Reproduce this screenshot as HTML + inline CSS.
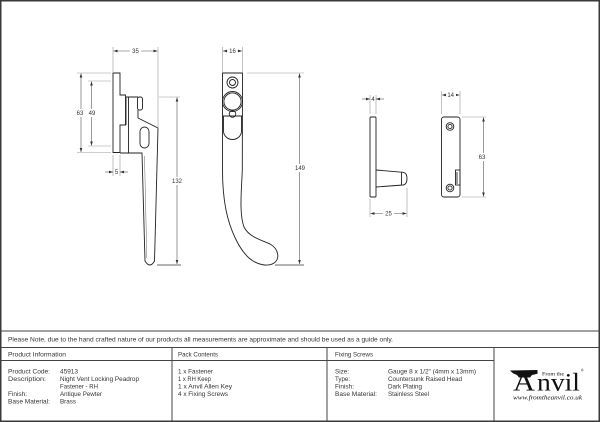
<!DOCTYPE html>
<html><head><meta charset="utf-8"><style>
html,body{margin:0;padding:0;background:#fff;}
svg{display:block;}
.o{fill:none;stroke:#222;stroke-width:0.9;}
.d{stroke:#555;stroke-width:0.6;fill:none;}
.e{stroke:#9a9a9a;stroke-width:0.6;fill:none;}
.t{font-family:"Liberation Sans",sans-serif;font-size:6px;fill:#333;}
.tb{font-family:"Liberation Sans",sans-serif;font-size:6.2px;fill:#333;}
.l{stroke:#444;stroke-width:1;fill:none;}
</style></head><body>
<svg width="600" height="422" viewBox="0 0 600 422" xmlns="http://www.w3.org/2000/svg">
<defs>
<marker id="a" viewBox="0 0 6 4" refX="6" refY="2" markerWidth="4" markerHeight="2.7" markerUnits="userSpaceOnUse" orient="auto-start-reverse"><path d="M0,0 L6,2 L0,4 z" fill="#333"/></marker>
</defs>
<rect x="0" y="0" width="600" height="422" fill="#fff"/>
<!-- page frame -->
<rect x="0.75" y="0.75" width="598.5" height="420.5" fill="none" stroke="#3a3a3a" stroke-width="1.5"/>

<!-- ===== LEFT DRAWING ===== -->
<path class="o" d="M113,73 H120 V95 H125.5 V125 H120 V152.5 H113 Z"/>
<path class="o" d="M126,97 V125 M128.5,97 V153"/>
<path class="o" d="M126,97 H138 M138,110 V118 L158,128 L154.5,261 Q150,269 145,261 L142,153 H120"/>
<rect class="o" x="137.5" y="97" width="5" height="13" rx="2"/>
<rect class="o" x="140" y="127" width="9" height="21" rx="4.5"/>
<path d="M144.5,156 L146.8,258" stroke="#666" stroke-width="0.5" fill="none"/>
<!-- dims left -->
<path class="e" d="M113,47 V72 M158,47 V128"/>
<path class="d" d="M113.5,51 H157.5" marker-start="url(#a)" marker-end="url(#a)"/>
<rect x="130" y="47" width="11" height="8" fill="#fff"/>
<text class="t" x="135.5" y="53.2" text-anchor="middle">35</text>

<path class="e" d="M77,73 H111 M77,152.5 H111 M88,81 H111 M88,146 H111"/>
<path class="d" d="M81,73.5 V152" marker-start="url(#a)" marker-end="url(#a)"/>
<path class="d" d="M91.5,81.5 V145.5" marker-start="url(#a)" marker-end="url(#a)"/>
<rect x="75" y="109" width="24" height="8" fill="#fff"/>
<text class="t" x="80" y="115" text-anchor="middle">63</text>
<text class="t" x="92" y="115" text-anchor="middle">49</text>

<path class="e" d="M113,155 V176 M120,155 V176"/>
<path class="d" d="M105,172 H113" marker-end="url(#a)"/>
<path class="d" d="M128,172 H120" marker-end="url(#a)"/>
<text class="t" x="116.5" y="174.2" text-anchor="middle">5</text>

<path class="e" d="M159,97 H180"/>
<path d="M157,265 H181" stroke="#9a9a9a" stroke-width="1.4"/>
<path class="d" d="M177,97.5 V264" marker-start="url(#a)" marker-end="url(#a)"/>
<rect x="170" y="177" width="15" height="8" fill="#fff"/>
<text class="t" x="177" y="183" text-anchor="middle">132</text>

<!-- ===== MIDDLE DRAWING ===== -->
<path class="o" d="M222.5,73 H242.5 L242.3,170 C241.5,190 239,214 244,227 C249,237 261,240 270,244 C279,249 280,259 274,263 C268,267 257,265 249,258 C239,249 230,230 226,210 C223,195 222.5,182 222.5,170 Z"/>
<circle class="o" cx="232.5" cy="82.5" r="5.5"/>
<circle class="o" cx="232.5" cy="82.5" r="3"/>
<circle class="o" cx="232.5" cy="101.5" r="10"/>
<circle class="o" cx="232.5" cy="101.5" r="8.6"/>
<circle class="o" cx="232.5" cy="114" r="3.3"/>
<path class="o" d="M222.5,116 H242.5 M223.5,116 V131 A9,8.5 0 0 0 241.5,131 V116"/>
<!-- dims middle -->
<path class="e" d="M222.5,47 V72 M242.5,47 V72"/>
<path class="d" d="M223,51 H242" marker-start="url(#a)" marker-end="url(#a)"/>
<rect x="227.5" y="47" width="10" height="8" fill="#fff"/>
<text class="t" x="232.5" y="53.2" text-anchor="middle">16</text>

<path class="e" d="M247,73 H304"/>
<path d="M275,265 H304" stroke="#9a9a9a" stroke-width="1.4"/>
<path class="d" d="M299.5,73.5 V264" marker-start="url(#a)" marker-end="url(#a)"/>
<rect x="292" y="164" width="15" height="8" fill="#fff"/>
<text class="t" x="300" y="170" text-anchor="middle">149</text>

<!-- ===== RIGHT DRAWINGS ===== -->
<rect class="o" x="370" y="117" width="6" height="80" rx="1"/>
<path class="o" d="M376,170 L403,172.3 Q407,172.8 407,178.5 Q407,184.5 403,185 L376,187"/>
<path class="o" d="M401.5,172.2 V185.2"/>
<path class="e" d="M370,95 V114 M376,95 V114"/>
<path class="d" d="M362,99 H370" marker-end="url(#a)"/>
<path class="d" d="M384,99 H376" marker-end="url(#a)"/>
<text class="t" x="373" y="101.2" text-anchor="middle">4</text>
<path class="e" d="M370,199 V217 M407,188 V217"/>
<path class="d" d="M370.5,213.5 H406.5" marker-start="url(#a)" marker-end="url(#a)"/>
<rect x="383" y="210" width="11" height="7" fill="#fff"/>
<text class="t" x="388.5" y="215.7" text-anchor="middle">25</text>

<rect class="o" x="441.5" y="117" width="18.5" height="80" rx="2.5"/>
<circle class="o" cx="450" cy="126.5" r="3.8"/>
<circle class="o" cx="450" cy="126.5" r="2.1"/>
<circle class="o" cx="450" cy="188" r="3.8"/>
<circle class="o" cx="450" cy="188" r="2.1"/>
<rect class="o" x="455.5" y="170" width="4.5" height="15"/>
<path class="o" d="M457,172 V184"/>
<path class="e" d="M441.5,91 V114 M460,91 V114"/>
<path class="d" d="M442,95 H459.5" marker-start="url(#a)" marker-end="url(#a)"/>
<rect x="446" y="91.5" width="10" height="7" fill="#fff"/>
<text class="t" x="450.7" y="97.2" text-anchor="middle">14</text>
<path class="e" d="M462,117 H486 M462,197 H486"/>
<path class="d" d="M483.5,117.5 V196.5" marker-start="url(#a)" marker-end="url(#a)"/>
<rect x="477" y="153" width="11" height="8" fill="#fff"/>
<text class="t" x="482" y="159" text-anchor="middle">63</text>

<!-- ===== TABLE ===== -->
<path class="l" d="M0,331 H600 M0,347.5 H600 M0,360.5 H494 M172,347.5 V421 M327,347.5 V421 M494,347.5 V421"/>
<text class="tb" x="8" y="341.5" textLength="385" lengthAdjust="spacingAndGlyphs">Please Note, due to the hand crafted nature of our products all measurements are approximate and should be used as a guide only.</text>

<text class="tb" x="8" y="356.3" textLength="58" lengthAdjust="spacingAndGlyphs">Product Information</text>
<text class="tb" x="178" y="356.3" textLength="40" lengthAdjust="spacingAndGlyphs">Pack Contents</text>
<text class="tb" x="335" y="356.3" textLength="38" lengthAdjust="spacingAndGlyphs">Fixing Screws</text>

<text class="tb" x="8" y="373.5" textLength="42" lengthAdjust="spacingAndGlyphs">Product Code:</text>
<text class="tb" x="60" y="373.5" textLength="18" lengthAdjust="spacingAndGlyphs">45913</text>
<text class="tb" x="8" y="381" textLength="38" lengthAdjust="spacingAndGlyphs">Description:</text>
<text class="tb" x="60" y="381" textLength="79" lengthAdjust="spacingAndGlyphs">Night Vent Locking Peadrop</text>
<text class="tb" x="60" y="388.5" textLength="38" lengthAdjust="spacingAndGlyphs">Fastener - RH</text>
<text class="tb" x="8" y="396" textLength="19" lengthAdjust="spacingAndGlyphs">Finish:</text>
<text class="tb" x="60" y="396" textLength="42" lengthAdjust="spacingAndGlyphs">Antique Pewter</text>
<text class="tb" x="8" y="403.5" textLength="42" lengthAdjust="spacingAndGlyphs">Base Material:</text>
<text class="tb" x="60" y="403.5" textLength="16" lengthAdjust="spacingAndGlyphs">Brass</text>

<text class="tb" x="178" y="373.5" textLength="35" lengthAdjust="spacingAndGlyphs">1 x Fastener</text>
<text class="tb" x="178" y="381" textLength="33" lengthAdjust="spacingAndGlyphs">1 x RH Keep</text>
<text class="tb" x="178" y="388.5" textLength="54" lengthAdjust="spacingAndGlyphs">1 x Anvil Allen Key</text>
<text class="tb" x="178" y="396" textLength="50" lengthAdjust="spacingAndGlyphs">4 x Fixing Screws</text>

<text class="tb" x="335" y="373.5" textLength="14" lengthAdjust="spacingAndGlyphs">Size:</text>
<text class="tb" x="388" y="373.5" textLength="88" lengthAdjust="spacingAndGlyphs">Gauge 8 x 1/2" (4mm x 13mm)</text>
<text class="tb" x="335" y="381" textLength="15" lengthAdjust="spacingAndGlyphs">Type:</text>
<text class="tb" x="388" y="381" textLength="74" lengthAdjust="spacingAndGlyphs">Countersunk Raised Head</text>
<text class="tb" x="335" y="388.5" textLength="19" lengthAdjust="spacingAndGlyphs">Finish:</text>
<text class="tb" x="388" y="388.5" textLength="34" lengthAdjust="spacingAndGlyphs">Dark Plating</text>
<text class="tb" x="335" y="396" textLength="42" lengthAdjust="spacingAndGlyphs">Base Material:</text>
<text class="tb" x="388" y="396" textLength="41" lengthAdjust="spacingAndGlyphs">Stainless Steel</text>

<!-- logo -->
<text x="513" y="390.5" font-family="'Liberation Serif',serif" font-size="26" fill="#111" textLength="22" lengthAdjust="spacingAndGlyphs">A</text>
<polygon points="510,370.5 537.5,370 537.5,373.8 532,375 530,377.5 519,377.5 517,375 513,373.2" fill="#111"/>
<text x="537" y="390.5" font-family="'Liberation Serif',serif" font-size="25" fill="#111" textLength="43" lengthAdjust="spacingAndGlyphs">nvil</text>
<text x="542" y="375.5" font-family="'Liberation Serif',serif" font-size="5.5" fill="#111" textLength="22" lengthAdjust="spacingAndGlyphs">From the</text>
<text x="581" y="371.5" font-family="'Liberation Sans',sans-serif" font-size="3.5" fill="#111">®</text>
<text x="513" y="399.5" font-family="'Liberation Serif',serif" font-style="italic" font-size="6" fill="#111" textLength="69" lengthAdjust="spacingAndGlyphs">www.fromtheanvil.co.uk</text>
</svg>
</body></html>
